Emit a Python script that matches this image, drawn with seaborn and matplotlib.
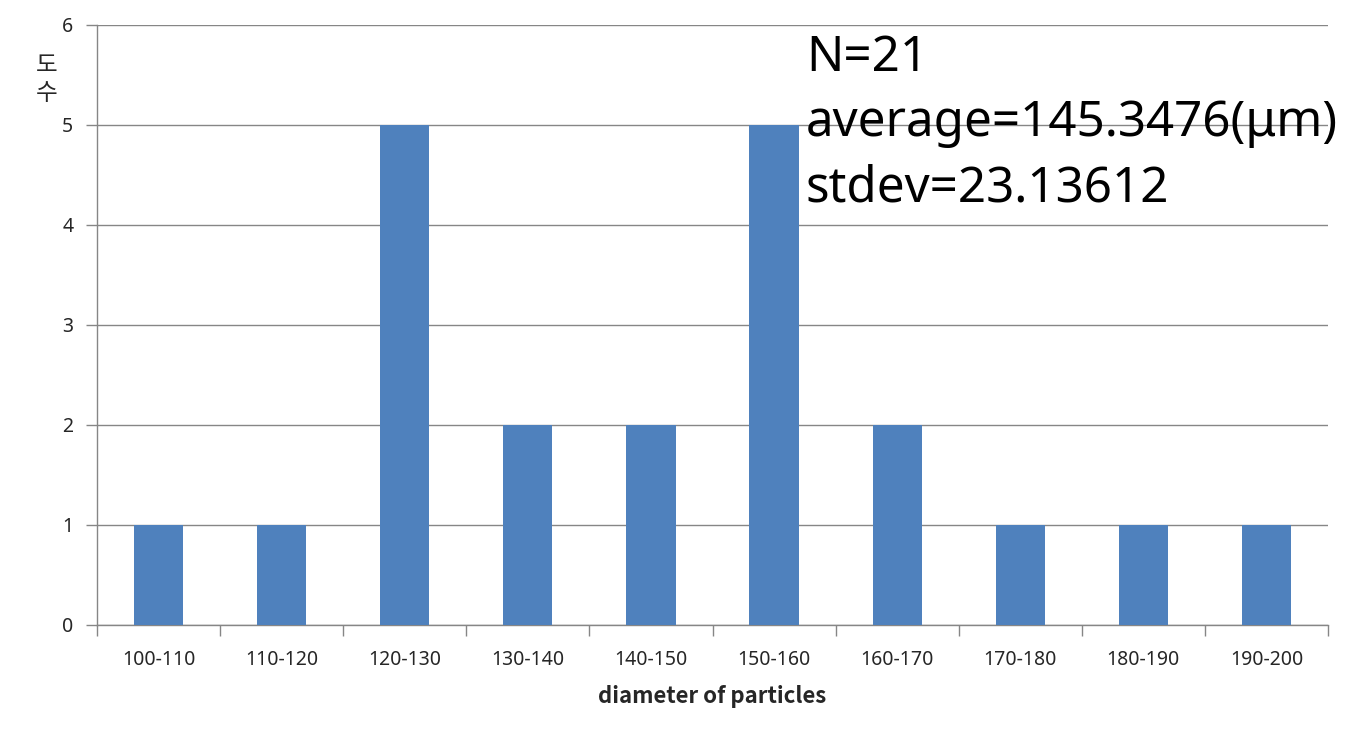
import matplotlib
matplotlib.use("Agg")
import matplotlib.pyplot as plt
import seaborn as sns
import pandas as pd
import numpy as np

# data
bins = ["100-110", "110-120", "120-130", "130-140", "140-150",
        "150-160", "160-170", "170-180", "180-190", "190-200"]
counts = [1, 1, 5, 2, 2, 5, 2, 1, 1, 1]
yticks = [0, 1, 2, 3, 4, 5, 6]
stats_lines = ["N=21", "average=145.3476(μm)", "stdev=23.13612"]

df = pd.DataFrame({"bin": bins, "count": counts})

sns.set_theme(style="white")
plt.rcParams['font.family'] = ['Noto Sans', 'Noto Sans CJK KR', 'DejaVu Sans']

grid_col = "#868686"

fig = plt.figure(figsize=(13.51, 7.43), dpi=100)
ax = fig.add_axes([97 / 1351, 118 / 743, 1231 / 1351, 600 / 743])

sns.barplot(data=df, x="bin", y="count", color="#4F81BD", width=0.4,
            saturation=1, linewidth=0, ax=ax, zorder=3)

ax.set_xlim(-0.5, len(bins) - 0.5)
ax.set_ylim(0, 6)
ax.set_yticks(yticks)
ax.yaxis.grid(True, color=grid_col, linewidth=1)
ax.set_axisbelow(True)

for s in ["top", "right"]:
    ax.spines[s].set_visible(False)
for s in ["left", "bottom"]:
    ax.spines[s].set_color(grid_col)
    ax.spines[s].set_linewidth(1)

# category boundary ticks
ax.set_xticks(np.arange(-0.5, len(bins), 1.0), minor=True)
ax.tick_params(axis="x", which="minor", length=8, color=grid_col, width=1,
               direction="out", bottom=True)
ax.tick_params(axis="x", which="major", length=0, pad=18, labelsize=14)
ax.tick_params(axis="y", length=8, color=grid_col, width=1, direction="out",
               left=True, pad=9, labelsize=14)

ax.set_xlabel("diameter of particles", fontsize=16, fontweight="bold",
              family=['Noto Sans CJK KR'], labelpad=11)
ax.set_ylabel("")

fig.text(47 / 1351, 1 - 54 / 743, "도\n수", fontsize=17, ha="center",
         va="top", linespacing=1.25, family=['Noto Sans CJK KR'],
         fontweight="medium")

for i, line in enumerate(stats_lines):
    fig.text(806 / 1351, 1 - (71 + 65 * i) / 743, line, fontsize=35.5,
             ha="left", va="baseline", color="black", zorder=5)

fig.savefig("out.png", dpi=100)
